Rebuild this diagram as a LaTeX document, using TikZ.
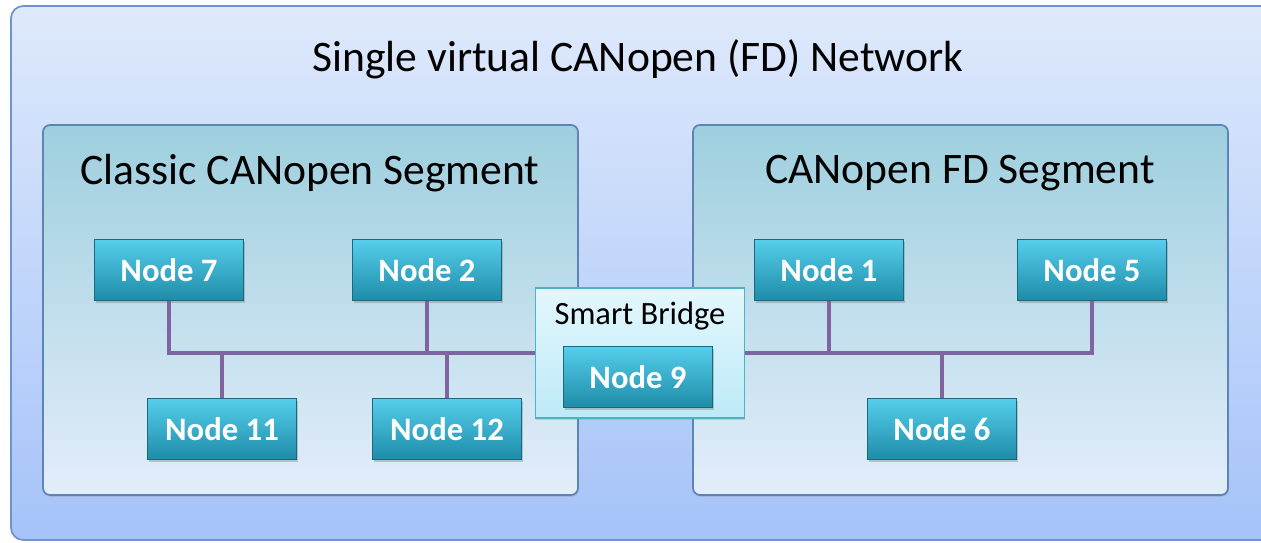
\documentclass[tikz,border=0pt]{standalone}
\usepackage{fontspec}
\setmainfont{Carlito}
\usetikzlibrary{shadows}

\definecolor{netTop}{HTML}{DEE9FB}
\definecolor{netBot}{HTML}{A5C3F9}
\definecolor{netLine}{HTML}{6F93CC}
\definecolor{segTop}{HTML}{9ECFDE}
\definecolor{segBot}{HTML}{E3EDFA}
\definecolor{segLine}{HTML}{5E84B6}
\definecolor{boxTop}{HTML}{55CEEC}
\definecolor{boxBot}{HTML}{1E8CA8}
\definecolor{boxLine}{HTML}{17697E}
\definecolor{brgTop}{HTML}{E3F7FD}
\definecolor{brgBot}{HTML}{BDEAF8}
\definecolor{brgLine}{HTML}{4FB3C6}
\definecolor{busCol}{HTML}{8064A2}

\tikzset{
  segment/.style={draw=segLine, line width=1pt, rounded corners=4pt,
    top color=segTop, bottom color=segBot,
    drop shadow={opacity=0.25, shadow xshift=0.5pt, shadow yshift=-1pt}},
  nodebox/.style={draw=boxLine, line width=0.6pt, top color=boxTop, bottom color=boxBot,
    minimum width=2.98cm, minimum height=1.22cm, text=white,
    font=\fontsize{18.6}{20}\selectfont\bfseries,
    drop shadow={opacity=0.4, shadow xshift=1pt, shadow yshift=-1.2pt}},
  bus/.style={draw=busCol, line width=2.6pt}
}

\begin{document}
\begin{tikzpicture}
\useasboundingbox (0,0) rectangle (25.22,-10.84);
\draw[netLine, line width=1pt, rounded corners=7pt, top color=netTop, bottom color=netBot]
  (0.22,-0.12) rectangle (26,-10.8);
\node (title) at (12.76,-1.18) {\fontsize{24.8}{27}\selectfont Single virtual CANopen (FD) Network};

% the two segments
\draw[segment] (0.86,-2.5) rectangle (11.56,-9.9);
\draw[segment] (13.86,-2.5) rectangle (24.56,-9.9);
\node (lefttitle) at (6.2,-3.46) {\fontsize{24.8}{27}\selectfont Classic CANopen Segment};
\node (righttitle) at (19.2,-3.46) {\fontsize{24.8}{27}\selectfont CANopen FD Segment};

% bridge
\node[draw=brgLine, line width=0.8pt, top color=brgTop, bottom color=brgBot,
  minimum width=4.18cm, minimum height=2.6cm,
  drop shadow={opacity=0.25, shadow xshift=0.5pt, shadow yshift=-1pt}] (bridge) at (12.8,-7.06) {};
\node[font=\fontsize{18.5}{20}\selectfont] (bridgetxt) at (12.8,-6.32) {Smart Bridge};
\node[nodebox] (n9) at (12.76,-7.54) {Node 9};

% nodes
\node[nodebox] (n7) at (3.38,-5.40) {Node 7};
\node[nodebox] (n2) at (8.54,-5.40) {Node 2};
\node[nodebox] (n11) at (4.44,-8.58) {Node 11};
\node[nodebox] (n12) at (8.94,-8.58) {Node 12};
\node[nodebox] (n1) at (16.58,-5.40) {Node 1};
\node[nodebox] (n5) at (21.84,-5.40) {Node 5};
\node[nodebox] (n6) at (18.84,-8.58) {Node 6};

% bus lines
\draw[bus] (n7.south) |- (bridge.west);
\draw[bus] (n2.south) -- (n2.south |- bridge.west);
\draw[bus] (n11.north) -- (n11.north |- bridge.west);
\draw[bus] (n12.north) -- (n12.north |- bridge.west);
\draw[bus] (n5.south) |- (bridge.east);
\draw[bus] (n1.south) -- (n1.south |- bridge.east);
\draw[bus] (n6.north) -- (n6.north |- bridge.east);
\end{tikzpicture}
\end{document}
